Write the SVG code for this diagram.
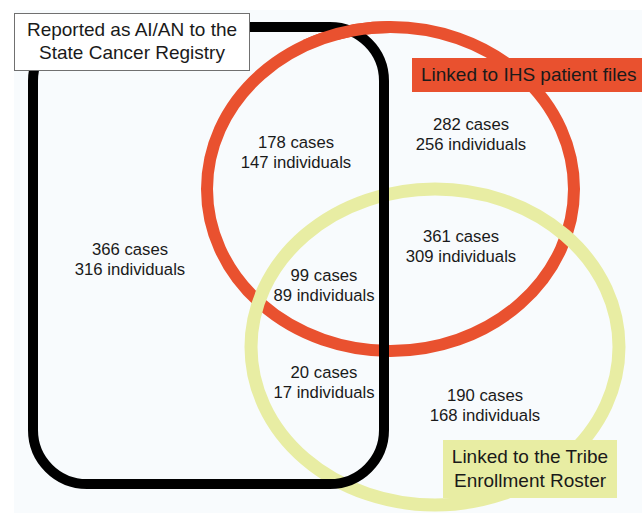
<svg xmlns="http://www.w3.org/2000/svg" width="642" height="513" viewBox="0 0 642 513">
<style>
text{font-family:"Liberation Sans",Arial,sans-serif;fill:#1a1a1a}
.n{font-size:16.7px;text-anchor:middle}
.l{font-size:19px}
.c{text-anchor:middle}
</style>
<defs>
<clipPath id="topclip"><rect x="270" y="0" width="120" height="40"/></clipPath>
</defs>
<rect x="0" y="0" width="642" height="513" fill="#ffffff"/>
<rect x="14" y="10" width="628" height="503" fill="#f8fbfd"/>
<g id="shapes">
<ellipse id="ihs" cx="390.5" cy="189" rx="183.5" ry="162" fill="none" stroke="#e9512f" stroke-width="12"/>
<ellipse id="tribe" cx="435" cy="347" rx="184" ry="158" fill="none" stroke="#e8eda3" stroke-width="13"/>
<rect id="registry" x="33" y="27" width="351" height="457" rx="54" ry="54" fill="none" stroke="#000000" stroke-width="10"/>
<ellipse cx="390.5" cy="189" rx="183.5" ry="162" fill="none" stroke="#e9512f" stroke-width="12" clip-path="url(#topclip)"/>
</g>
<g id="label-registry">
<rect x="14.5" y="13.5" width="235" height="57" fill="#ffffff" stroke="#707070" stroke-width="1"/>
<text class="l c" x="132" y="36">Reported as AI/AN to the</text>
<text class="l c" x="132" y="59">State Cancer Registry</text>
</g>
<g id="label-ihs">
<rect x="412" y="58" width="230" height="34" fill="#e9512f"/>
<text class="l" x="421" y="81">Linked to IHS patient files</text>
</g>
<g id="label-tribe">
<rect x="443" y="440" width="174" height="58" fill="#e8eda3"/>
<text class="l c" x="530" y="463">Linked to the Tribe</text>
<text class="l c" x="530" y="487">Enrollment Roster</text>
</g>
<g id="counts">
<g id="registry-only"><text class="n" x="130" y="255">366 cases</text><text class="n" x="130" y="275">316 individuals</text></g>
<g id="registry-ihs"><text class="n" x="296" y="148">178 cases</text><text class="n" x="296" y="168">147 individuals</text></g>
<g id="ihs-only"><text class="n" x="471" y="130">282 cases</text><text class="n" x="471" y="150">256 individuals</text></g>
<g id="ihs-tribe"><text class="n" x="461" y="242">361 cases</text><text class="n" x="461" y="262">309 individuals</text></g>
<g id="all-three"><text class="n" x="324" y="281">99 cases</text><text class="n" x="324" y="301">89 individuals</text></g>
<g id="registry-tribe"><text class="n" x="324" y="378">20 cases</text><text class="n" x="324" y="398">17 individuals</text></g>
<g id="tribe-only"><text class="n" x="485" y="401">190 cases</text><text class="n" x="485" y="421">168 individuals</text></g>
</g>
</svg>
